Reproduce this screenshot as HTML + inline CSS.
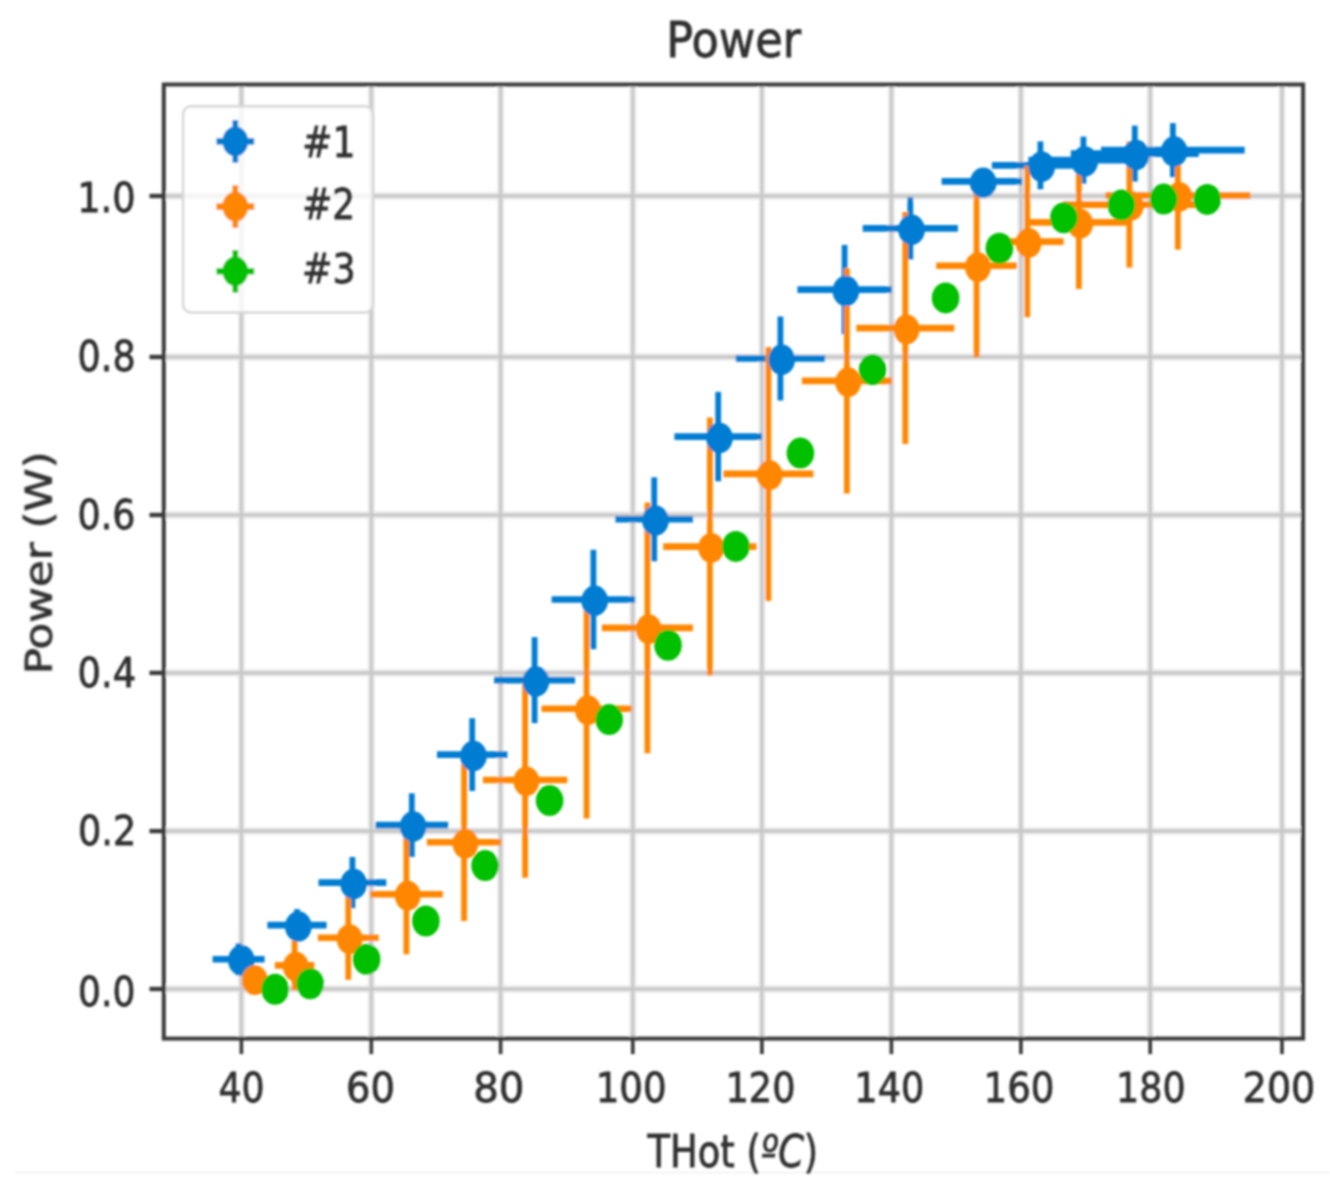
<!DOCTYPE html>
<html><head><meta charset="utf-8"><title>Power</title>
<style>html,body{margin:0;padding:0;background:#fff;}svg{display:block;}</style>
</head><body>
<svg width="1330" height="1190" viewBox="0 0 1330 1190">
<defs><filter id="bl" x="-5%" y="-5%" width="110%" height="110%"><feGaussianBlur stdDeviation="1.0"/></filter></defs>
<rect width="1330" height="1190" fill="#ffffff"/>
<g filter="url(#bl)">
<rect x="15" y="1171.5" width="1315" height="2" fill="#f3f3f3"/>
<g style="isolation:isolate">
<line x1="241.4" y1="84.5" x2="241.4" y2="1038.6" stroke="#f0f0f0" stroke-width="7.4" style="mix-blend-mode:darken"/>
<line x1="241.4" y1="84.5" x2="241.4" y2="1038.6" stroke="#cbcbcb" stroke-width="3.9" style="mix-blend-mode:darken"/>
<line x1="371.3" y1="84.5" x2="371.3" y2="1038.6" stroke="#f0f0f0" stroke-width="7.4" style="mix-blend-mode:darken"/>
<line x1="371.3" y1="84.5" x2="371.3" y2="1038.6" stroke="#cbcbcb" stroke-width="3.9" style="mix-blend-mode:darken"/>
<line x1="500.6" y1="84.5" x2="500.6" y2="1038.6" stroke="#f0f0f0" stroke-width="7.4" style="mix-blend-mode:darken"/>
<line x1="500.6" y1="84.5" x2="500.6" y2="1038.6" stroke="#cbcbcb" stroke-width="3.9" style="mix-blend-mode:darken"/>
<line x1="632.8" y1="84.5" x2="632.8" y2="1038.6" stroke="#f0f0f0" stroke-width="7.4" style="mix-blend-mode:darken"/>
<line x1="632.8" y1="84.5" x2="632.8" y2="1038.6" stroke="#cbcbcb" stroke-width="3.9" style="mix-blend-mode:darken"/>
<line x1="761.9" y1="84.5" x2="761.9" y2="1038.6" stroke="#f0f0f0" stroke-width="7.4" style="mix-blend-mode:darken"/>
<line x1="761.9" y1="84.5" x2="761.9" y2="1038.6" stroke="#cbcbcb" stroke-width="3.9" style="mix-blend-mode:darken"/>
<line x1="891.4" y1="84.5" x2="891.4" y2="1038.6" stroke="#f0f0f0" stroke-width="7.4" style="mix-blend-mode:darken"/>
<line x1="891.4" y1="84.5" x2="891.4" y2="1038.6" stroke="#cbcbcb" stroke-width="3.9" style="mix-blend-mode:darken"/>
<line x1="1020.9" y1="84.5" x2="1020.9" y2="1038.6" stroke="#f0f0f0" stroke-width="7.4" style="mix-blend-mode:darken"/>
<line x1="1020.9" y1="84.5" x2="1020.9" y2="1038.6" stroke="#cbcbcb" stroke-width="3.9" style="mix-blend-mode:darken"/>
<line x1="1150.2" y1="84.5" x2="1150.2" y2="1038.6" stroke="#f0f0f0" stroke-width="7.4" style="mix-blend-mode:darken"/>
<line x1="1150.2" y1="84.5" x2="1150.2" y2="1038.6" stroke="#cbcbcb" stroke-width="3.9" style="mix-blend-mode:darken"/>
<line x1="1282.0" y1="84.5" x2="1282.0" y2="1038.6" stroke="#f0f0f0" stroke-width="7.4" style="mix-blend-mode:darken"/>
<line x1="1282.0" y1="84.5" x2="1282.0" y2="1038.6" stroke="#cbcbcb" stroke-width="3.9" style="mix-blend-mode:darken"/>
<line x1="163.8" y1="196.0" x2="1303.1" y2="196.0" stroke="#f3f3f3" stroke-width="8.4" style="mix-blend-mode:darken"/>
<line x1="163.8" y1="196.0" x2="1303.1" y2="196.0" stroke="#d9d9d9" stroke-width="5.0" style="mix-blend-mode:darken"/>
<line x1="163.8" y1="196.0" x2="1303.1" y2="196.0" stroke="#c4c4c4" stroke-width="2.2" style="mix-blend-mode:darken"/>
<line x1="163.8" y1="357.0" x2="1303.1" y2="357.0" stroke="#f3f3f3" stroke-width="8.4" style="mix-blend-mode:darken"/>
<line x1="163.8" y1="357.0" x2="1303.1" y2="357.0" stroke="#d9d9d9" stroke-width="5.0" style="mix-blend-mode:darken"/>
<line x1="163.8" y1="357.0" x2="1303.1" y2="357.0" stroke="#c4c4c4" stroke-width="2.2" style="mix-blend-mode:darken"/>
<line x1="163.8" y1="515.0" x2="1303.1" y2="515.0" stroke="#f3f3f3" stroke-width="8.4" style="mix-blend-mode:darken"/>
<line x1="163.8" y1="515.0" x2="1303.1" y2="515.0" stroke="#d9d9d9" stroke-width="5.0" style="mix-blend-mode:darken"/>
<line x1="163.8" y1="515.0" x2="1303.1" y2="515.0" stroke="#c4c4c4" stroke-width="2.2" style="mix-blend-mode:darken"/>
<line x1="163.8" y1="672.9" x2="1303.1" y2="672.9" stroke="#f3f3f3" stroke-width="8.4" style="mix-blend-mode:darken"/>
<line x1="163.8" y1="672.9" x2="1303.1" y2="672.9" stroke="#d9d9d9" stroke-width="5.0" style="mix-blend-mode:darken"/>
<line x1="163.8" y1="672.9" x2="1303.1" y2="672.9" stroke="#c4c4c4" stroke-width="2.2" style="mix-blend-mode:darken"/>
<line x1="163.8" y1="831.1" x2="1303.1" y2="831.1" stroke="#f3f3f3" stroke-width="8.4" style="mix-blend-mode:darken"/>
<line x1="163.8" y1="831.1" x2="1303.1" y2="831.1" stroke="#d9d9d9" stroke-width="5.0" style="mix-blend-mode:darken"/>
<line x1="163.8" y1="831.1" x2="1303.1" y2="831.1" stroke="#c4c4c4" stroke-width="2.2" style="mix-blend-mode:darken"/>
<line x1="163.8" y1="989.0" x2="1303.1" y2="989.0" stroke="#f3f3f3" stroke-width="8.4" style="mix-blend-mode:darken"/>
<line x1="163.8" y1="989.0" x2="1303.1" y2="989.0" stroke="#d9d9d9" stroke-width="5.0" style="mix-blend-mode:darken"/>
<line x1="163.8" y1="989.0" x2="1303.1" y2="989.0" stroke="#c4c4c4" stroke-width="2.2" style="mix-blend-mode:darken"/>
</g>
<line x1="212.6" y1="959.3000000000001" x2="264.6" y2="959.3000000000001" stroke="#057dd2" stroke-width="6.6"/>
<line x1="238.6" y1="943.3" x2="238.6" y2="975.3" stroke="#057dd2" stroke-width="5.8"/>
<line x1="267.4" y1="925.1" x2="326.6" y2="925.1" stroke="#057dd2" stroke-width="6.6"/>
<line x1="297.0" y1="909.1" x2="297.0" y2="941.1" stroke="#057dd2" stroke-width="5.8"/>
<line x1="318.5" y1="882.6" x2="386.3" y2="882.6" stroke="#057dd2" stroke-width="6.6"/>
<line x1="352.40000000000003" y1="857.0" x2="352.40000000000003" y2="908.2" stroke="#057dd2" stroke-width="5.8"/>
<line x1="375.4" y1="825.1" x2="448.2" y2="825.1" stroke="#057dd2" stroke-width="6.6"/>
<line x1="411.8" y1="793.3" x2="411.8" y2="856.9" stroke="#057dd2" stroke-width="5.8"/>
<line x1="437.0" y1="754.6" x2="507.4" y2="754.6" stroke="#057dd2" stroke-width="6.6"/>
<line x1="472.20000000000005" y1="718.2" x2="472.20000000000005" y2="791.0" stroke="#057dd2" stroke-width="5.8"/>
<line x1="494.1" y1="680.1" x2="575.1" y2="680.1" stroke="#057dd2" stroke-width="6.6"/>
<line x1="534.6" y1="637.1" x2="534.6" y2="723.1" stroke="#057dd2" stroke-width="5.8"/>
<line x1="551.6" y1="599.5" x2="635.2" y2="599.5" stroke="#057dd2" stroke-width="6.6"/>
<line x1="593.4" y1="549.8" x2="593.4" y2="649.2" stroke="#057dd2" stroke-width="5.8"/>
<line x1="615.3" y1="519.3000000000001" x2="693.1" y2="519.3000000000001" stroke="#057dd2" stroke-width="6.6"/>
<line x1="654.2" y1="477.3" x2="654.2" y2="561.3" stroke="#057dd2" stroke-width="5.8"/>
<line x1="674.4" y1="436.6" x2="762.0" y2="436.6" stroke="#057dd2" stroke-width="6.6"/>
<line x1="718.2" y1="391.9" x2="718.2" y2="481.3" stroke="#057dd2" stroke-width="5.8"/>
<line x1="735.7" y1="358.5" x2="825.1" y2="358.5" stroke="#057dd2" stroke-width="6.6"/>
<line x1="780.4" y1="316.5" x2="780.4" y2="400.5" stroke="#057dd2" stroke-width="5.8"/>
<line x1="797.4" y1="289.6" x2="891.8" y2="289.6" stroke="#057dd2" stroke-width="6.6"/>
<line x1="844.6" y1="244.9" x2="844.6" y2="334.3" stroke="#057dd2" stroke-width="5.8"/>
<line x1="862.7" y1="228.4" x2="957.9" y2="228.4" stroke="#057dd2" stroke-width="6.6"/>
<line x1="910.3000000000001" y1="197.4" x2="910.3000000000001" y2="259.4" stroke="#057dd2" stroke-width="5.8"/>
<line x1="941.6" y1="181.4" x2="1022.2" y2="181.4" stroke="#057dd2" stroke-width="6.6"/>
<line x1="981.9" y1="171.4" x2="981.9" y2="191.4" stroke="#057dd2" stroke-width="5.8"/>
<line x1="991.9" y1="165.4" x2="1088.9" y2="165.4" stroke="#057dd2" stroke-width="6.6"/>
<line x1="1040.3999999999999" y1="141.4" x2="1040.3999999999999" y2="189.4" stroke="#057dd2" stroke-width="5.8"/>
<line x1="1028.4" y1="160.1" x2="1138.4" y2="160.1" stroke="#057dd2" stroke-width="6.6"/>
<line x1="1083.3999999999999" y1="136.6" x2="1083.3999999999999" y2="183.6" stroke="#057dd2" stroke-width="5.8"/>
<line x1="1070.8" y1="153.6" x2="1198.8" y2="153.6" stroke="#057dd2" stroke-width="6.6"/>
<line x1="1134.8" y1="125.6" x2="1134.8" y2="181.6" stroke="#057dd2" stroke-width="5.8"/>
<line x1="1101.1" y1="150.1" x2="1244.7" y2="150.1" stroke="#057dd2" stroke-width="6.6"/>
<line x1="1172.8999999999999" y1="123.1" x2="1172.8999999999999" y2="177.1" stroke="#057dd2" stroke-width="5.8"/>
<line x1="245.5" y1="978.8000000000001" x2="261.5" y2="978.8000000000001" stroke="#ff8602" stroke-width="6.6"/>
<line x1="253.5" y1="968.8" x2="253.5" y2="988.8" stroke="#ff8602" stroke-width="5.8"/>
<line x1="274.9" y1="965.4" x2="314.3" y2="965.4" stroke="#ff8602" stroke-width="6.6"/>
<line x1="294.6" y1="940.4" x2="294.6" y2="990.4" stroke="#ff8602" stroke-width="5.8"/>
<line x1="317.9" y1="937.8000000000001" x2="378.7" y2="937.8000000000001" stroke="#ff8602" stroke-width="6.6"/>
<line x1="348.3" y1="895.8" x2="348.3" y2="979.8" stroke="#ff8602" stroke-width="5.8"/>
<line x1="370.0" y1="894.3000000000001" x2="442.8" y2="894.3000000000001" stroke="#ff8602" stroke-width="6.6"/>
<line x1="406.40000000000003" y1="834.3" x2="406.40000000000003" y2="954.3" stroke="#ff8602" stroke-width="5.8"/>
<line x1="426.9" y1="842.3000000000001" x2="501.3" y2="842.3000000000001" stroke="#ff8602" stroke-width="6.6"/>
<line x1="464.1" y1="763.6" x2="464.1" y2="921.0" stroke="#ff8602" stroke-width="5.8"/>
<line x1="482.9" y1="780.0" x2="567.3" y2="780.0" stroke="#ff8602" stroke-width="6.6"/>
<line x1="525.1" y1="682.2" x2="525.1" y2="877.8" stroke="#ff8602" stroke-width="5.8"/>
<line x1="541.5" y1="708.8000000000001" x2="631.7" y2="708.8000000000001" stroke="#ff8602" stroke-width="6.6"/>
<line x1="586.6" y1="599.1" x2="586.6" y2="818.5" stroke="#ff8602" stroke-width="5.8"/>
<line x1="601.9" y1="627.9" x2="692.9" y2="627.9" stroke="#ff8602" stroke-width="6.6"/>
<line x1="647.4" y1="502.5" x2="647.4" y2="753.3" stroke="#ff8602" stroke-width="5.8"/>
<line x1="663.2" y1="546.6" x2="756.6" y2="546.6" stroke="#ff8602" stroke-width="6.6"/>
<line x1="709.9" y1="417.6" x2="709.9" y2="675.6" stroke="#ff8602" stroke-width="5.8"/>
<line x1="723.4" y1="473.90000000000003" x2="813.4" y2="473.90000000000003" stroke="#ff8602" stroke-width="6.6"/>
<line x1="768.4" y1="346.9" x2="768.4" y2="600.9" stroke="#ff8602" stroke-width="5.8"/>
<line x1="801.9" y1="380.90000000000003" x2="891.9" y2="380.90000000000003" stroke="#ff8602" stroke-width="6.6"/>
<line x1="846.9" y1="268.2" x2="846.9" y2="493.6" stroke="#ff8602" stroke-width="5.8"/>
<line x1="856.3" y1="328.1" x2="954.3" y2="328.1" stroke="#ff8602" stroke-width="6.6"/>
<line x1="905.3000000000001" y1="212.1" x2="905.3000000000001" y2="444.1" stroke="#ff8602" stroke-width="5.8"/>
<line x1="936.2" y1="265.8" x2="1017.0" y2="265.8" stroke="#ff8602" stroke-width="6.6"/>
<line x1="976.6" y1="174.2" x2="976.6" y2="357.4" stroke="#ff8602" stroke-width="5.8"/>
<line x1="991.0" y1="241.6" x2="1063.6" y2="241.6" stroke="#ff8602" stroke-width="6.6"/>
<line x1="1027.3" y1="166.0" x2="1027.3" y2="317.2" stroke="#ff8602" stroke-width="5.8"/>
<line x1="1028.9" y1="222.4" x2="1128.9" y2="222.4" stroke="#ff8602" stroke-width="6.6"/>
<line x1="1078.8999999999999" y1="155.8" x2="1078.8999999999999" y2="289.0" stroke="#ff8602" stroke-width="5.8"/>
<line x1="1062.8" y1="204.6" x2="1196.0" y2="204.6" stroke="#ff8602" stroke-width="6.6"/>
<line x1="1129.3999999999999" y1="141.6" x2="1129.3999999999999" y2="267.6" stroke="#ff8602" stroke-width="5.8"/>
<line x1="1105.4" y1="195.6" x2="1250.4" y2="195.6" stroke="#ff8602" stroke-width="6.6"/>
<line x1="1177.8999999999999" y1="141.6" x2="1177.8999999999999" y2="249.6" stroke="#ff8602" stroke-width="5.8"/>
<ellipse cx="241.3" cy="960.2" rx="13.3" ry="15.2" fill="#057dd2"/>
<ellipse cx="298.29999999999995" cy="926.4" rx="13.3" ry="15.2" fill="#057dd2"/>
<ellipse cx="353.7" cy="883.9" rx="13.3" ry="15.2" fill="#057dd2"/>
<ellipse cx="413.09999999999997" cy="826.4" rx="13.3" ry="15.2" fill="#057dd2"/>
<ellipse cx="473.5" cy="755.9" rx="13.3" ry="15.2" fill="#057dd2"/>
<ellipse cx="535.9" cy="681.4" rx="13.3" ry="15.2" fill="#057dd2"/>
<ellipse cx="594.6999999999999" cy="600.8" rx="13.3" ry="15.2" fill="#057dd2"/>
<ellipse cx="655.5" cy="520.6" rx="13.3" ry="15.2" fill="#057dd2"/>
<ellipse cx="719.5" cy="437.9" rx="13.3" ry="15.2" fill="#057dd2"/>
<ellipse cx="781.6999999999999" cy="359.79999999999995" rx="13.3" ry="15.2" fill="#057dd2"/>
<ellipse cx="845.9" cy="290.9" rx="13.3" ry="15.2" fill="#057dd2"/>
<ellipse cx="911.6" cy="229.70000000000002" rx="13.3" ry="15.2" fill="#057dd2"/>
<ellipse cx="983.1999999999999" cy="182.70000000000002" rx="13.3" ry="15.2" fill="#057dd2"/>
<ellipse cx="1041.7" cy="166.70000000000002" rx="13.3" ry="15.2" fill="#057dd2"/>
<ellipse cx="1084.7" cy="161.4" rx="13.3" ry="15.2" fill="#057dd2"/>
<ellipse cx="1136.1000000000001" cy="154.9" rx="13.3" ry="15.2" fill="#057dd2"/>
<ellipse cx="1174.2" cy="151.4" rx="13.3" ry="15.2" fill="#057dd2"/>
<ellipse cx="254.8" cy="980.1" rx="12.9" ry="14.9" fill="#ff8602"/>
<ellipse cx="295.9" cy="966.6999999999999" rx="12.9" ry="14.9" fill="#ff8602"/>
<ellipse cx="349.59999999999997" cy="939.1" rx="12.9" ry="14.9" fill="#ff8602"/>
<ellipse cx="407.7" cy="895.6" rx="12.9" ry="14.9" fill="#ff8602"/>
<ellipse cx="465.4" cy="843.6" rx="12.9" ry="14.9" fill="#ff8602"/>
<ellipse cx="526.4" cy="781.3" rx="12.9" ry="14.9" fill="#ff8602"/>
<ellipse cx="587.9" cy="710.1" rx="12.9" ry="14.9" fill="#ff8602"/>
<ellipse cx="648.6999999999999" cy="629.1999999999999" rx="12.9" ry="14.9" fill="#ff8602"/>
<ellipse cx="711.1999999999999" cy="547.9" rx="12.9" ry="14.9" fill="#ff8602"/>
<ellipse cx="769.6999999999999" cy="475.2" rx="12.9" ry="14.9" fill="#ff8602"/>
<ellipse cx="848.1999999999999" cy="382.2" rx="12.9" ry="14.9" fill="#ff8602"/>
<ellipse cx="906.6" cy="329.4" rx="12.9" ry="14.9" fill="#ff8602"/>
<ellipse cx="977.9" cy="267.09999999999997" rx="12.9" ry="14.9" fill="#ff8602"/>
<ellipse cx="1028.6000000000001" cy="242.9" rx="12.9" ry="14.9" fill="#ff8602"/>
<ellipse cx="1080.2" cy="223.70000000000002" rx="12.9" ry="14.9" fill="#ff8602"/>
<ellipse cx="1130.7" cy="205.9" rx="12.9" ry="14.9" fill="#ff8602"/>
<ellipse cx="1179.2" cy="196.9" rx="12.9" ry="14.9" fill="#ff8602"/>
<ellipse cx="275.1" cy="989.3000000000001" rx="13.8" ry="15.5" fill="#00c000"/>
<ellipse cx="310.1" cy="983.8000000000001" rx="13.8" ry="15.5" fill="#00c000"/>
<ellipse cx="366.6" cy="959.3000000000001" rx="13.8" ry="15.5" fill="#00c000"/>
<ellipse cx="425.90000000000003" cy="921.0" rx="13.8" ry="15.5" fill="#00c000"/>
<ellipse cx="485.1" cy="865.6" rx="13.8" ry="15.5" fill="#00c000"/>
<ellipse cx="549.6" cy="800.6" rx="13.8" ry="15.5" fill="#00c000"/>
<ellipse cx="609.2" cy="719.6" rx="13.8" ry="15.5" fill="#00c000"/>
<ellipse cx="668.0" cy="645.2" rx="13.8" ry="15.5" fill="#00c000"/>
<ellipse cx="735.8000000000001" cy="546.4" rx="13.8" ry="15.5" fill="#00c000"/>
<ellipse cx="800.4" cy="453.1" rx="13.8" ry="15.5" fill="#00c000"/>
<ellipse cx="872.6" cy="369.6" rx="13.8" ry="15.5" fill="#00c000"/>
<ellipse cx="945.6" cy="297.90000000000003" rx="13.8" ry="15.5" fill="#00c000"/>
<ellipse cx="999.4" cy="248.29999999999998" rx="13.8" ry="15.5" fill="#00c000"/>
<ellipse cx="1063.8999999999999" cy="217.79999999999998" rx="13.8" ry="15.5" fill="#00c000"/>
<ellipse cx="1121.3999999999999" cy="205.0" rx="13.8" ry="15.5" fill="#00c000"/>
<ellipse cx="1163.6999999999998" cy="199.0" rx="13.8" ry="15.5" fill="#00c000"/>
<ellipse cx="1207.1999999999998" cy="199.4" rx="13.8" ry="15.5" fill="#00c000"/>
<rect x="163.8" y="84.5" width="1139.3" height="954.1" fill="none" stroke="#3a3a3a" stroke-width="4.0"/>
<line x1="241.4" y1="1038.6" x2="241.4" y2="1054.1" stroke="#3a3a3a" stroke-width="3.7"/>
<line x1="371.3" y1="1038.6" x2="371.3" y2="1054.1" stroke="#3a3a3a" stroke-width="3.7"/>
<line x1="500.6" y1="1038.6" x2="500.6" y2="1054.1" stroke="#3a3a3a" stroke-width="3.7"/>
<line x1="632.8" y1="1038.6" x2="632.8" y2="1054.1" stroke="#3a3a3a" stroke-width="3.7"/>
<line x1="761.9" y1="1038.6" x2="761.9" y2="1054.1" stroke="#3a3a3a" stroke-width="3.7"/>
<line x1="891.4" y1="1038.6" x2="891.4" y2="1054.1" stroke="#3a3a3a" stroke-width="3.7"/>
<line x1="1020.9" y1="1038.6" x2="1020.9" y2="1054.1" stroke="#3a3a3a" stroke-width="3.7"/>
<line x1="1150.2" y1="1038.6" x2="1150.2" y2="1054.1" stroke="#3a3a3a" stroke-width="3.7"/>
<line x1="1282.0" y1="1038.6" x2="1282.0" y2="1054.1" stroke="#3a3a3a" stroke-width="3.7"/>
<line x1="149.5" y1="196.0" x2="163.8" y2="196.0" stroke="#3a3a3a" stroke-width="4.4"/>
<line x1="149.5" y1="357.0" x2="163.8" y2="357.0" stroke="#3a3a3a" stroke-width="4.4"/>
<line x1="149.5" y1="515.0" x2="163.8" y2="515.0" stroke="#3a3a3a" stroke-width="4.4"/>
<line x1="149.5" y1="672.9" x2="163.8" y2="672.9" stroke="#3a3a3a" stroke-width="4.4"/>
<line x1="149.5" y1="831.1" x2="163.8" y2="831.1" stroke="#3a3a3a" stroke-width="4.4"/>
<line x1="149.5" y1="989.0" x2="163.8" y2="989.0" stroke="#3a3a3a" stroke-width="4.4"/>
<rect x="183.1" y="106.2" width="189.9" height="206.3" rx="8" ry="8" fill="#ffffff" fill-opacity="0.8" stroke="#d6d6d6" stroke-width="2.4"/>
<line x1="216.4" y1="141.4" x2="254.20000000000002" y2="141.4" stroke="#057dd2" stroke-width="6.6"/>
<line x1="235.3" y1="120.10000000000001" x2="235.3" y2="162.70000000000002" stroke="#057dd2" stroke-width="5.8"/>
<ellipse cx="235.3" cy="141.4" rx="12.9" ry="14.9" fill="#057dd2"/>
<line x1="216.4" y1="206.6" x2="254.20000000000002" y2="206.6" stroke="#ff8602" stroke-width="6.6"/>
<line x1="235.3" y1="185.29999999999998" x2="235.3" y2="227.9" stroke="#ff8602" stroke-width="5.8"/>
<ellipse cx="235.3" cy="206.6" rx="12.9" ry="14.9" fill="#ff8602"/>
<line x1="216.4" y1="271.3" x2="254.20000000000002" y2="271.3" stroke="#00c000" stroke-width="6.6"/>
<line x1="235.3" y1="250.0" x2="235.3" y2="292.6" stroke="#00c000" stroke-width="5.8"/>
<ellipse cx="235.3" cy="271.3" rx="12.9" ry="14.9" fill="#00c000"/>
</g>
<g font-family="DejaVu Sans, Liberation Sans, sans-serif" fill="#303030" stroke="#303030" stroke-width="0.8" filter="url(#bl)">
<text transform="translate(241.50,1101.66) scale(0.8987,1)" text-anchor="middle" font-size="40.37">40</text>
<text transform="translate(370.60,1101.66) scale(0.9542,1)" text-anchor="middle" font-size="40.37">60</text>
<text transform="translate(498.80,1101.66) scale(0.9971,1)" text-anchor="middle" font-size="40.37">80</text>
<text transform="translate(631.20,1101.66) scale(0.9215,1)" text-anchor="middle" font-size="40.37">100</text>
<text transform="translate(760.50,1101.66) scale(0.9075,1)" text-anchor="middle" font-size="40.37">120</text>
<text transform="translate(889.30,1101.66) scale(0.9076,1)" text-anchor="middle" font-size="40.37">140</text>
<text transform="translate(1019.00,1101.66) scale(0.9215,1)" text-anchor="middle" font-size="40.37">160</text>
<text transform="translate(1150.80,1101.66) scale(0.9043,1)" text-anchor="middle" font-size="40.37">180</text>
<text transform="translate(1279.00,1101.66) scale(0.9436,1)" text-anchor="middle" font-size="40.37">200</text>
<text transform="translate(135.60,212.30) scale(0.8863,1)" text-anchor="end" font-size="41.41">1.0</text>
<text transform="translate(135.70,370.76) scale(0.8513,1)" text-anchor="end" font-size="42.95">0.8</text>
<text transform="translate(135.40,528.70) scale(0.8799,1)" text-anchor="end" font-size="41.41">0.6</text>
<text transform="translate(136.10,686.80) scale(0.8898,1)" text-anchor="end" font-size="41.41">0.4</text>
<text transform="translate(136.30,845.00) scale(0.8862,1)" text-anchor="end" font-size="41.41">0.2</text>
<text transform="translate(135.30,1005.70) scale(0.8701,1)" text-anchor="end" font-size="41.41">0.0</text>
<text transform="translate(733.70,56.99) scale(0.9026,1)" text-anchor="middle" font-size="49.47">Power</text>
<text transform="translate(732.90,1166.67) scale(0.8149,1)" text-anchor="middle" font-size="45.21">THot (<tspan font-style="italic">ºC</tspan>)</text>
<text transform="translate(51.40,562.80) rotate(-90) scale(1,0.8730)" text-anchor="middle" font-size="43.63">Power (W)</text>
<text transform="translate(302.20,156.56) scale(0.8377,1)" text-anchor="start" font-size="43.06">#1</text>
<text transform="translate(302.20,218.83) scale(0.8505,1)" text-anchor="start" font-size="42.20">#2</text>
<text transform="translate(302.10,282.98) scale(0.8900,1)" text-anchor="start" font-size="40.88">#3</text>
</g>
</svg>
</body></html>
